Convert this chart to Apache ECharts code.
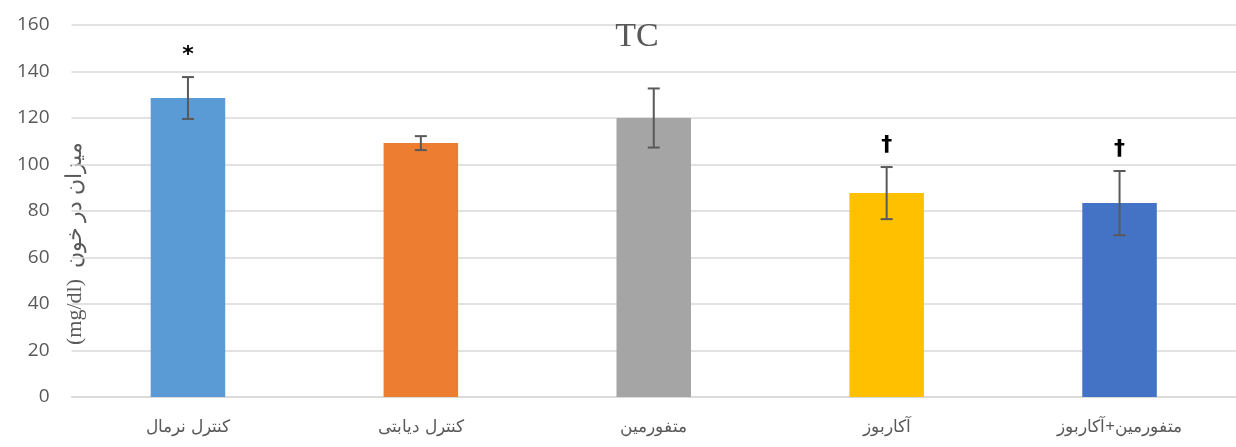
<!DOCTYPE html>
<html><head><meta charset="utf-8">
<script src="https://cdn.jsdelivr.net/npm/echarts@6/dist/echarts.min.js"></script>
<style>html,body{margin:0;padding:0;background:#fff}#c{width:1236px;height:447px}</style>
</head><body><div id="c"></div>
<script>
const categories = ['کنترل نرمال', 'کنترل دیابتی', 'متفورمین', 'آکاربوز', 'متفورمین+آکاربوز'];
const values = [128.6, 109.2, 120.0, 87.7, 83.4];
const errors = [9.0, 3.0, 12.7, 11.2, 13.8];
const marks = ['*', '', '', '†', '†'];
const colors = ['#5b9bd5', '#ed7d31', '#a5a5a5', '#ffc000', '#4472c4'];
const yTicks = [0, 20, 40, 60, 80, 100, 120, 140, 160];
const yTitle = '(mg/dl)  میزان در خون';

const chart = echarts.init(document.getElementById('c'));
chart.setOption({
  animation: false,
  title: { text: 'TC', left: 632, top: 15, textAlign: 'center',
    textStyle: { fontFamily: 'Liberation Serif', fontSize: 34, fontWeight: 'normal', color: '#595959' } },
  grid: { left: 71.5, right: 0, top: 25, bottom: 50 },
  xAxis: { type: 'category', data: categories,
    axisLine: { lineStyle: { color: '#d9d9d9', width: 1.5 } }, axisTick: { show: false },
    axisLabel: { color: '#595959', fontSize: 17, fontFamily: 'Noto Sans', margin: 22 } },
  yAxis: { type: 'value', min: yTicks[0], max: yTicks[yTicks.length - 1], interval: 20,
    axisLine: { show: false }, axisTick: { show: false },
    splitLine: { lineStyle: { color: '#d9d9d9', width: 1.5 } },
    axisLabel: { color: '#595959', fontSize: 19, fontFamily: 'Open Sans', margin: 22 } },
  graphic: [{ type: 'text', left: 64, top: 142, rotation: Math.PI / 2, silent: true,
    style: { text: yTitle, fontSize: 22, fontFamily: 'Liberation Serif', fill: '#595959' } }],
  series: [
    { type: 'bar', barWidth: '32%', z: 2,
      data: values.map((v, i) => ({ value: v, itemStyle: { color: colors[i] } })) },
    { type: 'custom', z: 5,
      data: values.map((v, i) => [i, v, errors[i]]),
      renderItem: function (params, api) {
        const i = api.value(0), v = api.value(1), e = api.value(2);
        const top = api.coord([i, v + e]), bot = api.coord([i, v - e]);
        const cap = 6;
        const st = { stroke: '#595959', lineWidth: 2 };
        const children = [
          { type: 'line', shape: { x1: top[0], y1: top[1], x2: bot[0], y2: bot[1] }, style: st },
          { type: 'line', shape: { x1: top[0] - cap, y1: top[1], x2: top[0] + cap, y2: top[1] }, style: st },
          { type: 'line', shape: { x1: bot[0] - cap, y1: bot[1], x2: bot[0] + cap, y2: bot[1] }, style: st }
        ];
        const m = marks[params.dataIndex];
        if (m) children.push({ type: 'text', style: { text: m, x: top[0], y: top[1] - 22,
          align: 'center', verticalAlign: 'middle', fontSize: 22, fontWeight: 'bold', fill: '#000', fontFamily: 'DejaVu Sans' } });
        return { type: 'group', children: children };
      } }
  ]
});
</script></body></html>
